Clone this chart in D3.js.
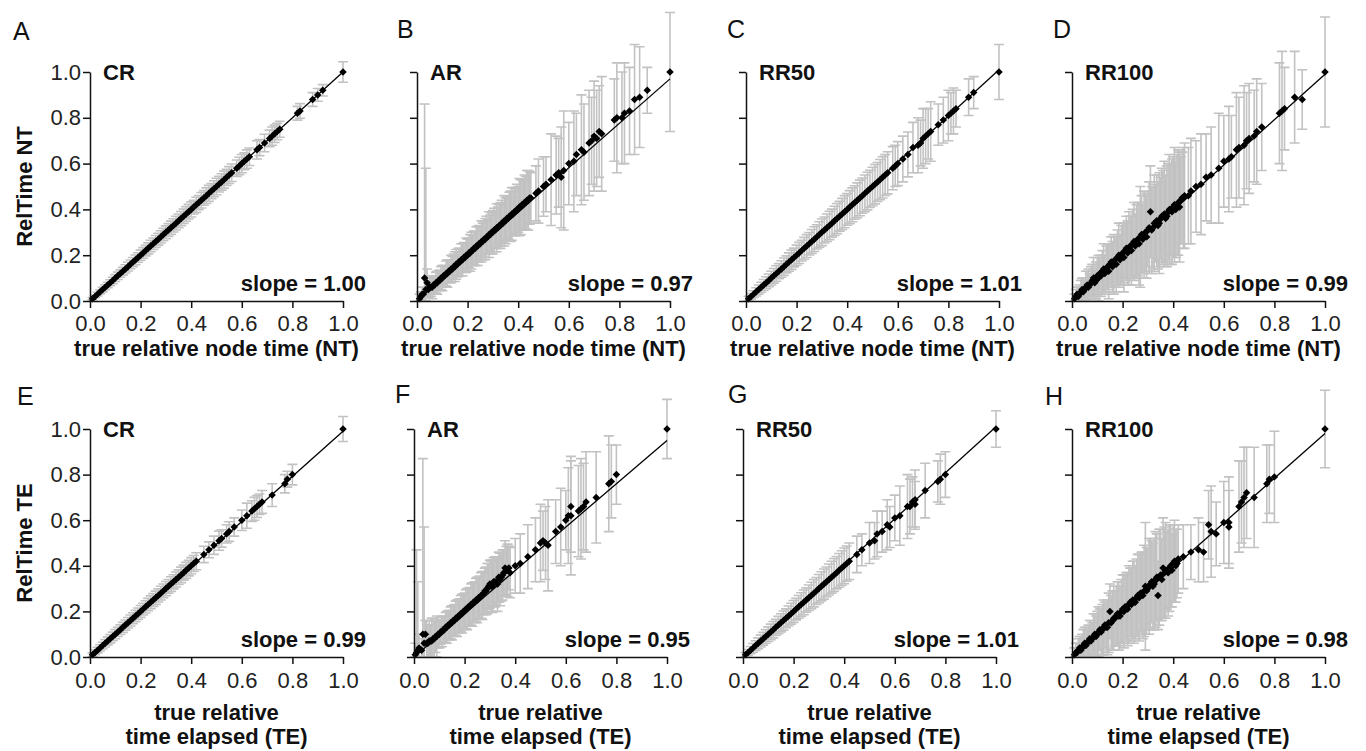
<!DOCTYPE html>
<html>
<head>
<meta charset="utf-8">
<script src="https://cdn.jsdelivr.net/npm/d3@7"></script>
<style>
  body { margin: 0; background: #fff; }
  svg { font-family: "Liberation Sans", Arial, sans-serif; }
</style>
</head>
<body>
<script>
(function() {

  // panel letters, method names and regression slopes
  const panelLetters = ["A", "B", "C", "D", "E", "F", "G", "H"];
  const methodNames = ["CR", "AR", "RR50", "RR100", "CR", "AR", "RR50", "RR100"];
  const slopes = [1.00, 0.97, 1.01, 0.99, 0.99, 0.95, 1.01, 0.98];
  const tickValues = [0, 0.2, 0.4, 0.6, 0.8, 1.0];
  const yTitles = ["RelTime NT", "RelTime TE"];
  const xTitles = [["true relative node time (NT)"], ["true relative", "time elapsed (TE)"]];

  // each point: [true time, RelTime estimate, error half-width]
  const ntCR = [
    [0.01,0.01,0.005],[0.02,0.02,0.006],[0.03,0.03,0.008],[0.04,0.04,0.009],[0.05,0.05,0.010],[0.06,0.06,0.011],[0.07,0.07,0.012],[0.08,0.08,0.013],[0.09,0.09,0.014],[0.10,0.10,0.015],
    [0.11,0.11,0.016],[0.12,0.12,0.016],[0.13,0.13,0.017],[0.14,0.14,0.018],[0.15,0.15,0.019],[0.16,0.16,0.019],[0.17,0.17,0.020],[0.18,0.18,0.021],[0.19,0.19,0.021],[0.20,0.20,0.022],
    [0.21,0.21,0.023],[0.22,0.22,0.023],[0.23,0.23,0.024],[0.24,0.24,0.025],[0.25,0.25,0.025],[0.26,0.26,0.026],[0.27,0.27,0.026],[0.28,0.28,0.027],[0.29,0.29,0.027],[0.30,0.30,0.028],
    [0.31,0.31,0.028],[0.32,0.32,0.029],[0.33,0.33,0.029],[0.34,0.34,0.030],[0.35,0.35,0.030],[0.36,0.36,0.031],[0.37,0.37,0.031],[0.38,0.38,0.032],[0.39,0.39,0.032],[0.40,0.40,0.033],
    [0.41,0.41,0.030],[0.42,0.42,0.033],[0.43,0.43,0.031],[0.44,0.44,0.034],[0.45,0.45,0.032],[0.46,0.46,0.034],[0.47,0.47,0.035],[0.48,0.48,0.033],[0.49,0.49,0.035],[0.50,0.50,0.036],
    [0.51,0.51,0.034],[0.52,0.52,0.036],[0.53,0.53,0.037],[0.54,0.54,0.035],[0.55,0.55,0.037],[0.56,0.56,0.038],[0.58,0.58,0.036],[0.59,0.59,0.038],[0.60,0.60,0.040],[0.61,0.61,0.037],
    [0.62,0.62,0.040],[0.63,0.63,0.038],[0.66,0.66,0.040],[0.67,0.67,0.035],[0.69,0.69,0.038],[0.71,0.71,0.036],[0.72,0.72,0.040],[0.73,0.73,0.038],[0.74,0.74,0.036],[0.75,0.75,0.035],
    [0.82,0.82,0.030],[0.83,0.83,0.032],[0.88,0.88,0.030],[0.90,0.90,0.028],[0.92,0.92,0.025],[1.00,1.00,0.045]
  ];
  const ntAR = [
    [0.01,0.01,0.02],[0.02,0.03,0.03],[0.03,0.10,0.76],[0.035,0.05,0.53],[0.04,0.08,0.06],[0.05,0.06,0.04],[0.06,0.06,0.05],[0.07,0.07,0.04],[0.08,0.08,0.05],[0.09,0.09,0.045],
    [0.10,0.10,0.055],[0.11,0.11,0.045],[0.12,0.12,0.06],[0.13,0.13,0.05],[0.14,0.14,0.055],[0.15,0.15,0.065],[0.16,0.16,0.055],[0.17,0.17,0.06],[0.18,0.18,0.07],[0.19,0.19,0.06],
    [0.20,0.20,0.07],[0.21,0.21,0.08],[0.22,0.22,0.065],[0.23,0.23,0.075],[0.24,0.24,0.085],[0.25,0.25,0.07],[0.26,0.26,0.08],[0.27,0.27,0.09],[0.28,0.28,0.075],[0.29,0.29,0.085],
    [0.30,0.30,0.095],[0.31,0.31,0.08],[0.32,0.32,0.09],[0.33,0.33,0.10],[0.34,0.34,0.085],[0.35,0.35,0.10],[0.36,0.36,0.09],[0.37,0.37,0.11],[0.38,0.38,0.095],[0.39,0.39,0.105],
    [0.40,0.40,0.10],[0.41,0.41,0.12],[0.42,0.42,0.105],[0.43,0.43,0.115],[0.44,0.44,0.13],[0.45,0.45,0.11],[0.47,0.47,0.12],[0.48,0.48,0.14],[0.50,0.50,0.13],[0.51,0.51,0.12],
    [0.53,0.53,0.20],[0.55,0.55,0.17],[0.56,0.56,0.15],[0.57,0.54,0.22],[0.58,0.57,0.26],[0.60,0.60,0.18],[0.62,0.61,0.22],[0.63,0.64,0.18],[0.65,0.66,0.24],[0.66,0.65,0.21],
    [0.68,0.69,0.23],[0.69,0.70,0.19],[0.70,0.72,0.24],[0.71,0.71,0.21],[0.72,0.74,0.20],[0.73,0.73,0.25],[0.78,0.79,0.18],[0.79,0.80,0.24],[0.81,0.80,0.20],[0.82,0.82,0.22],
    [0.84,0.83,0.19],[0.86,0.88,0.24],[0.88,0.89,0.22],[0.91,0.92,0.10],[1.00,1.00,0.26],
    [0.015,0.02,0.02],[0.025,0.03,0.03],[0.045,0.05,0.035],[0.055,0.06,0.04],[0.065,0.07,0.035],[0.075,0.08,0.045],[0.085,0.09,0.04],[0.095,0.10,0.05],[0.105,0.11,0.045],[0.115,0.12,0.055],
    [0.125,0.13,0.05],[0.135,0.14,0.06],[0.145,0.15,0.055],[0.155,0.16,0.065],[0.165,0.17,0.06],[0.175,0.18,0.07],[0.185,0.19,0.065],[0.195,0.20,0.075],[0.205,0.21,0.065],[0.215,0.22,0.08],
    [0.225,0.23,0.075],[0.235,0.24,0.085],[0.245,0.25,0.08],[0.255,0.26,0.09],[0.265,0.27,0.08],[0.275,0.28,0.09],[0.285,0.29,0.10],[0.295,0.30,0.085],[0.305,0.31,0.095],[0.315,0.32,0.105],
    [0.325,0.33,0.09],[0.335,0.34,0.10],[0.345,0.35,0.11],[0.355,0.36,0.095],[0.365,0.37,0.105],[0.375,0.38,0.115],[0.385,0.39,0.10],[0.395,0.40,0.11],[0.405,0.41,0.125],[0.415,0.42,0.11],
    [0.425,0.43,0.12],[0.435,0.44,0.13],[0.445,0.45,0.115]
  ];
  const ntRR50 = [
    [0.01,0.01,0.010],[0.02,0.02,0.012],[0.03,0.03,0.015],[0.04,0.04,0.018],[0.05,0.05,0.020],[0.06,0.06,0.022],[0.07,0.07,0.024],[0.08,0.08,0.026],[0.09,0.09,0.028],[0.10,0.10,0.030],
    [0.11,0.11,0.032],[0.12,0.12,0.034],[0.13,0.13,0.033],[0.14,0.14,0.036],[0.15,0.15,0.038],[0.16,0.16,0.037],[0.17,0.17,0.040],[0.18,0.18,0.042],[0.19,0.19,0.041],[0.20,0.20,0.044],
    [0.21,0.21,0.046],[0.22,0.22,0.045],[0.23,0.23,0.048],[0.24,0.24,0.050],[0.25,0.25,0.049],[0.26,0.26,0.052],[0.27,0.27,0.054],[0.28,0.28,0.053],[0.29,0.29,0.056],[0.30,0.30,0.058],
    [0.31,0.31,0.057],[0.32,0.32,0.060],[0.33,0.33,0.062],[0.34,0.34,0.061],[0.35,0.35,0.064],[0.36,0.36,0.066],[0.37,0.37,0.065],[0.38,0.38,0.068],[0.39,0.39,0.070],[0.40,0.40,0.069],
    [0.41,0.41,0.072],[0.42,0.42,0.074],[0.43,0.43,0.073],[0.44,0.44,0.076],[0.45,0.45,0.078],[0.46,0.46,0.077],[0.47,0.47,0.080],[0.48,0.48,0.082],[0.49,0.49,0.081],[0.50,0.50,0.084],
    [0.51,0.51,0.086],[0.52,0.52,0.085],[0.53,0.53,0.088],[0.54,0.54,0.090],[0.55,0.55,0.089],[0.56,0.56,0.092],[0.58,0.58,0.094],[0.59,0.59,0.090],[0.60,0.60,0.096],[0.62,0.62,0.100],
    [0.64,0.64,0.098],[0.66,0.67,0.110],[0.68,0.68,0.120],[0.69,0.69,0.100],[0.70,0.71,0.130],[0.71,0.72,0.120],[0.72,0.73,0.110],[0.73,0.74,0.130],[0.76,0.77,0.090],[0.78,0.79,0.100],
    [0.80,0.81,0.110],[0.81,0.82,0.090],[0.82,0.83,0.100],[0.83,0.84,0.080],[0.88,0.89,0.080],[0.90,0.91,0.070],[1.00,1.00,0.120]
  ];
  const ntRR100 = [
    [0.01,0.01,0.02],[0.02,0.03,0.03],[0.03,0.03,0.04],[0.04,0.05,0.05],[0.05,0.05,0.04],[0.06,0.07,0.06],[0.07,0.07,0.05],[0.08,0.09,0.07],[0.09,0.08,0.06],[0.10,0.11,0.08],
    [0.11,0.12,0.07],[0.12,0.13,0.09],[0.13,0.12,0.08],[0.14,0.15,0.10],[0.15,0.16,0.09],[0.16,0.15,0.11],[0.17,0.18,0.10],[0.18,0.19,0.12],[0.19,0.18,0.11],[0.20,0.21,0.13],
    [0.21,0.22,0.12],[0.22,0.21,0.14],[0.23,0.24,0.13],[0.24,0.25,0.15],[0.25,0.24,0.14],[0.26,0.27,0.16],[0.27,0.28,0.22],[0.28,0.27,0.15],[0.29,0.30,0.17],[0.30,0.31,0.16],
    [0.31,0.39,0.20],[0.32,0.32,0.18],[0.33,0.34,0.17],[0.34,0.33,0.19],[0.35,0.36,0.18],[0.36,0.37,0.20],[0.37,0.36,0.19],[0.38,0.39,0.21],[0.39,0.40,0.20],[0.40,0.41,0.22],
    [0.41,0.40,0.21],[0.42,0.43,0.23],[0.43,0.44,0.19],[0.44,0.45,0.22],[0.46,0.46,0.21],[0.47,0.48,0.23],[0.49,0.50,0.20],[0.51,0.51,0.22],[0.53,0.54,0.19],[0.55,0.55,0.21],
    [0.58,0.58,0.24],[0.60,0.61,0.20],[0.62,0.62,0.23],[0.63,0.63,0.18],[0.65,0.66,0.25],[0.66,0.67,0.22],[0.68,0.68,0.26],[0.69,0.70,0.21],[0.70,0.71,0.24],[0.72,0.72,0.20],
    [0.73,0.74,0.23],[0.75,0.76,0.19],[0.82,0.82,0.22],[0.83,0.83,0.26],[0.84,0.84,0.18],[0.88,0.89,0.20],[0.91,0.88,0.13],[1.00,1.00,0.24],
    [0.015,0.02,0.03],[0.025,0.02,0.04],[0.035,0.04,0.05],[0.045,0.04,0.06],[0.055,0.06,0.07],[0.065,0.06,0.08],[0.075,0.08,0.07],[0.085,0.10,0.09],[0.095,0.09,0.08],[0.105,0.10,0.10],
    [0.115,0.11,0.09],[0.125,0.14,0.11],[0.135,0.14,0.10],[0.145,0.13,0.12],[0.155,0.17,0.11],[0.165,0.16,0.13],[0.175,0.16,0.12],[0.185,0.20,0.14],[0.195,0.20,0.13],[0.205,0.19,0.15],
    [0.215,0.23,0.14],[0.225,0.23,0.16],[0.235,0.22,0.15],[0.245,0.26,0.17],[0.255,0.26,0.16],[0.265,0.25,0.18],[0.275,0.29,0.17],[0.285,0.29,0.19],[0.295,0.28,0.18],[0.305,0.32,0.20],
    [0.315,0.31,0.19],[0.325,0.34,0.21],[0.335,0.35,0.20],[0.345,0.34,0.22],[0.355,0.37,0.21],[0.365,0.38,0.23],[0.375,0.37,0.22],[0.385,0.40,0.24],[0.395,0.39,0.23],[0.405,0.42,0.25],
    [0.415,0.42,0.22],[0.425,0.41,0.24],[0.435,0.45,0.20],[0.445,0.46,0.23]
  ];
  const teCR = [
    [0.01,0.01,0.008],[0.02,0.02,0.010],[0.03,0.03,0.012],[0.04,0.04,0.014],[0.05,0.05,0.015],[0.06,0.06,0.016],[0.07,0.07,0.017],[0.08,0.08,0.018],[0.09,0.09,0.019],[0.10,0.10,0.020],
    [0.11,0.11,0.020],[0.12,0.12,0.021],[0.13,0.13,0.022],[0.14,0.14,0.022],[0.15,0.15,0.023],[0.16,0.16,0.024],[0.17,0.17,0.024],[0.18,0.18,0.025],[0.19,0.19,0.025],[0.20,0.20,0.026],
    [0.21,0.21,0.026],[0.22,0.22,0.027],[0.23,0.23,0.027],[0.24,0.24,0.028],[0.25,0.25,0.028],[0.26,0.26,0.029],[0.27,0.27,0.029],[0.28,0.28,0.030],[0.29,0.29,0.030],[0.30,0.30,0.031],
    [0.31,0.31,0.030],[0.32,0.32,0.032],[0.33,0.33,0.031],[0.34,0.34,0.033],[0.35,0.35,0.032],[0.36,0.36,0.034],[0.37,0.37,0.033],[0.38,0.38,0.035],[0.39,0.39,0.034],[0.40,0.40,0.036],
    [0.41,0.41,0.035],[0.42,0.42,0.037],[0.45,0.45,0.036],[0.47,0.47,0.035],[0.49,0.49,0.040],[0.51,0.51,0.042],[0.52,0.52,0.038],[0.54,0.54,0.040],[0.55,0.55,0.043],[0.57,0.57,0.040],
    [0.60,0.60,0.045],[0.62,0.62,0.055],[0.64,0.64,0.045],[0.65,0.65,0.050],[0.66,0.66,0.048],[0.67,0.67,0.045],[0.68,0.68,0.050],[0.72,0.71,0.050],[0.77,0.76,0.040],[0.78,0.78,0.035],
    [0.80,0.80,0.045],[1.00,1.00,0.055]
  ];
  const teAR = [
    [0.005,0.01,0.05],[0.01,0.02,0.45],[0.015,0.03,0.30],[0.02,0.04,0.06],[0.03,0.03,0.05],[0.035,0.10,0.77],[0.04,0.06,0.51],[0.045,0.10,0.06],[0.05,0.06,0.10],[0.06,0.07,0.09],
    [0.07,0.07,0.10],[0.08,0.08,0.08],[0.09,0.09,0.09],[0.10,0.10,0.06],[0.11,0.11,0.065],[0.12,0.12,0.06],[0.13,0.13,0.07],[0.14,0.14,0.065],[0.15,0.15,0.075],[0.16,0.16,0.07],
    [0.17,0.17,0.08],[0.18,0.18,0.075],[0.19,0.19,0.085],[0.20,0.20,0.08],[0.21,0.21,0.09],[0.22,0.22,0.085],[0.23,0.23,0.095],[0.24,0.24,0.09],[0.25,0.25,0.10],[0.26,0.26,0.095],
    [0.27,0.27,0.105],[0.28,0.29,0.10],[0.29,0.30,0.11],[0.30,0.32,0.105],[0.31,0.31,0.115],[0.32,0.33,0.11],[0.33,0.32,0.12],[0.34,0.34,0.115],[0.35,0.36,0.11],[0.36,0.39,0.12],
    [0.37,0.38,0.115],[0.38,0.37,0.11],[0.40,0.40,0.12],[0.42,0.41,0.13],[0.45,0.44,0.14],[0.48,0.47,0.14],[0.50,0.50,0.17],[0.51,0.51,0.13],[0.52,0.50,0.16],[0.53,0.49,0.20],
    [0.56,0.55,0.14],[0.58,0.57,0.17],[0.60,0.60,0.13],[0.61,0.62,0.21],[0.62,0.66,0.20],[0.62,0.62,0.26],[0.65,0.64,0.20],[0.66,0.65,0.22],[0.67,0.66,0.19],[0.68,0.68,0.22],
    [0.72,0.70,0.20],[0.77,0.76,0.21],[0.78,0.77,0.16],[0.80,0.80,0.13],[1.00,1.00,0.13],
    [0.055,0.06,0.08],[0.065,0.07,0.07],[0.075,0.08,0.09],[0.085,0.09,0.07],[0.095,0.10,0.06],[0.105,0.11,0.055],[0.115,0.12,0.06],[0.125,0.13,0.065],[0.135,0.14,0.06],[0.145,0.15,0.07],
    [0.155,0.16,0.065],[0.165,0.17,0.075],[0.175,0.18,0.07],[0.185,0.19,0.08],[0.195,0.20,0.075],[0.205,0.21,0.085],[0.215,0.22,0.08],[0.225,0.23,0.09],[0.235,0.24,0.085],[0.245,0.25,0.095],
    [0.255,0.26,0.09],[0.265,0.27,0.10],[0.275,0.28,0.095],[0.285,0.29,0.105],[0.295,0.31,0.10],[0.305,0.31,0.11],[0.315,0.33,0.105],[0.325,0.33,0.10],[0.335,0.35,0.11],[0.345,0.35,0.105],
    [0.355,0.37,0.10],[0.365,0.38,0.105],[0.375,0.39,0.095]
  ];
  const teRR50 = [
    [0.01,0.01,0.010],[0.02,0.02,0.013],[0.03,0.03,0.016],[0.04,0.04,0.019],[0.05,0.05,0.021],[0.06,0.06,0.024],[0.07,0.07,0.026],[0.08,0.08,0.028],[0.09,0.09,0.030],[0.10,0.10,0.032],
    [0.11,0.11,0.034],[0.12,0.12,0.036],[0.13,0.13,0.035],[0.14,0.14,0.038],[0.15,0.15,0.040],[0.16,0.16,0.042],[0.17,0.17,0.041],[0.18,0.18,0.044],[0.19,0.19,0.046],[0.20,0.20,0.048],
    [0.21,0.21,0.047],[0.22,0.22,0.050],[0.23,0.23,0.052],[0.24,0.24,0.054],[0.25,0.25,0.053],[0.26,0.26,0.056],[0.27,0.27,0.058],[0.28,0.28,0.060],[0.29,0.29,0.059],[0.30,0.30,0.062],
    [0.31,0.31,0.064],[0.32,0.32,0.066],[0.33,0.33,0.065],[0.34,0.34,0.068],[0.35,0.35,0.070],[0.36,0.36,0.072],[0.37,0.37,0.071],[0.38,0.38,0.074],[0.39,0.39,0.076],[0.40,0.40,0.078],
    [0.41,0.41,0.077],[0.42,0.42,0.080],[0.45,0.45,0.080],[0.47,0.47,0.070],[0.50,0.50,0.090],[0.52,0.51,0.080],[0.53,0.54,0.100],[0.55,0.55,0.090],[0.57,0.58,0.110],[0.58,0.57,0.090],
    [0.60,0.61,0.100],[0.62,0.62,0.130],[0.65,0.66,0.140],[0.66,0.66,0.120],[0.67,0.68,0.110],[0.68,0.69,0.130],[0.68,0.67,0.100],[0.72,0.73,0.120],[0.77,0.77,0.090],[0.78,0.78,0.110],
    [0.80,0.80,0.100],[1.00,1.00,0.080]
  ];
  const teRR100 = [
    [0.01,0.01,0.03],[0.02,0.02,0.04],[0.03,0.04,0.05],[0.04,0.04,0.06],[0.05,0.06,0.07],[0.06,0.06,0.06],[0.07,0.08,0.08],[0.08,0.08,0.07],[0.09,0.10,0.09],[0.10,0.10,0.10],
    [0.11,0.12,0.09],[0.12,0.12,0.11],[0.13,0.14,0.10],[0.14,0.13,0.12],[0.15,0.20,0.12],[0.16,0.16,0.13],[0.17,0.17,0.12],[0.18,0.19,0.14],[0.19,0.18,0.13],[0.20,0.21,0.15],
    [0.21,0.22,0.14],[0.22,0.21,0.16],[0.23,0.24,0.15],[0.24,0.25,0.17],[0.25,0.24,0.16],[0.26,0.27,0.18],[0.27,0.28,0.17],[0.28,0.27,0.19],[0.29,0.31,0.28],[0.30,0.30,0.18],
    [0.31,0.32,0.20],[0.32,0.31,0.19],[0.33,0.34,0.21],[0.34,0.27,0.15],[0.35,0.36,0.20],[0.36,0.39,0.22],[0.37,0.38,0.21],[0.38,0.37,0.19],[0.39,0.40,0.18],[0.40,0.41,0.17],
    [0.41,0.40,0.16],[0.42,0.43,0.15],[0.44,0.44,0.14],[0.47,0.46,0.12],[0.50,0.47,0.14],[0.52,0.46,0.13],[0.54,0.58,0.15],[0.55,0.55,0.20],[0.57,0.54,0.14],[0.60,0.59,0.18],
    [0.62,0.59,0.20],[0.62,0.57,0.16],[0.66,0.66,0.20],[0.67,0.68,0.18],[0.68,0.70,0.22],[0.69,0.72,0.20],[0.72,0.70,0.22],[0.77,0.76,0.17],[0.78,0.78,0.15],[0.80,0.79,0.20],
    [1.00,1.00,0.17],
    [0.015,0.02,0.04],[0.025,0.03,0.05],[0.035,0.03,0.06],[0.045,0.05,0.07],[0.055,0.05,0.08],[0.065,0.07,0.07],[0.075,0.07,0.09],[0.085,0.09,0.10],[0.095,0.09,0.09],[0.105,0.11,0.11],
    [0.115,0.11,0.10],[0.125,0.13,0.12],[0.135,0.13,0.11],[0.145,0.15,0.13],[0.155,0.15,0.12],[0.165,0.17,0.14],[0.175,0.18,0.13],[0.185,0.18,0.15],[0.195,0.20,0.14],[0.205,0.20,0.16],
    [0.215,0.22,0.15],[0.225,0.23,0.17],[0.235,0.23,0.16],[0.245,0.24,0.18],[0.255,0.26,0.17],[0.265,0.26,0.19],[0.275,0.28,0.18],[0.285,0.29,0.20],[0.295,0.29,0.19],[0.305,0.31,0.21],
    [0.315,0.33,0.18],[0.325,0.32,0.20],[0.335,0.35,0.19],[0.345,0.35,0.21],[0.355,0.34,0.18],[0.365,0.37,0.20],[0.375,0.38,0.17],[0.385,0.39,0.19],[0.395,0.38,0.16],[0.405,0.42,0.18],
    [0.415,0.41,0.15]
  ];
  const panelData = [ntCR, ntAR, ntRR50, ntRR100, teCR, teAR, teRR50, teRR100];

  // layout
  const width = 1366;
  const height = 751;
  const colLeft = [[90, 417, 746, 1072], [90, 414, 743, 1072]];
  const rowY = [[301, 72], [657, 429]];   // [y of 0, y of 1]
  const plotW = 253;
  const letterPos = [[13, 40], [397, 38], [727, 38], [1053, 38], [17, 405], [395, 403], [728, 403], [1045, 405]];

  const svg = d3.select("body").append("svg")
    .attr("width", width)
    .attr("height", height);

  for (let i = 0; i < 8; i++) {
    drawPanel(i);
  }

  // y titles for each row
  yTitles.forEach((t, r) => {
    const mid = (rowY[r][0] + rowY[r][1]) / 2;
    svg.append("text")
      .attr("transform", "translate(32," + mid + ") rotate(-90)")
      .attr("text-anchor", "middle")
      .attr("font-size", 22)
      .attr("font-weight", "bold")
      .attr("fill", "#111")
      .text(t);
  });

  function drawPanel(i) {
    const row = Math.floor(i / 4);
    const col = i % 4;
    const x0 = colLeft[row][col];
    const yb = rowY[row][0];
    const yt = rowY[row][1];
    const pts = panelData[i];

    let x = d3.scaleLinear().domain([0, 1]).range([x0, x0 + plotW]);
    let y = d3.scaleLinear().domain([0, 1]).range([yb, yt]);

    let g = svg.append("g");

    // gray error bars with caps
    const cap = 5;
    g.append("g")
      .selectAll("path")
      .data(pts)
      .join("path")
      .attr("fill", "none")
      .attr("stroke", "#c2c2c2")
      .attr("stroke-width", 1.6)
      .attr("d", function(d) {
        let cx = x(d[0]);
        let hi = y(d[1] + d[2]);
        let lo = y(Math.max(0, d[1] - d[2]));
        return "M" + (cx - cap) + "," + hi + "H" + (cx + cap) +
               "M" + cx + "," + hi + "V" + lo +
               "M" + (cx - cap) + "," + lo + "H" + (cx + cap);
      });

    // regression line through origin
    g.append("line")
      .attr("x1", x(0))
      .attr("y1", y(0))
      .attr("x2", x(1))
      .attr("y2", y(slopes[i]))
      .attr("stroke", "#000")
      .attr("stroke-width", 1.3);

    // black diamonds
    g.append("g")
      .selectAll("path")
      .data(pts)
      .join("path")
      .attr("d", d3.symbol(d3.symbolSquare, 28))
      .attr("transform", d => "translate(" + x(d[0]) + "," + y(d[1]) + ") rotate(45)")
      .attr("fill", "#000");

    // axes
    let xAxis = d3.axisBottom(x)
      .tickValues(tickValues)
      .tickSize(7)
      .tickSizeOuter(0)
      .tickPadding(row === 0 ? 7 : 8)
      .tickFormat(d3.format(".1f"));
    let xg = g.append("g")
      .attr("transform", "translate(0," + yb + ")")
      .call(xAxis);

    let yAxis = d3.axisLeft(y)
      .tickValues(tickValues)
      .tickSize(7)
      .tickSizeOuter(0)
      .tickPadding(2)
      .tickFormat(col === 0 ? d3.format(".1f") : "");
    let yg = g.append("g")
      .attr("transform", "translate(" + x0 + ",0)")
      .call(yAxis);

    [xg, yg].forEach(a => {
      a.attr("font-size", 22).attr("font-family", null);
      a.selectAll("path, line").attr("stroke", "#111").attr("stroke-width", 1.5);
      a.selectAll("text").attr("fill", "#222");
    });

    // x title
    const cx = x0 + plotW / 2;
    xTitles[row].forEach((t, k) => {
      g.append("text")
        .attr("x", cx)
        .attr("y", row === 0 ? 356 : 720 + k * 24)
        .attr("text-anchor", "middle")
        .attr("font-size", 22)
        .attr("font-weight", "bold")
        .attr("fill", "#111")
        .text(t);
    });

    // method name
    g.append("text")
      .attr("x", x0 + 13)
      .attr("y", yt + 8)
      .attr("font-size", 22)
      .attr("font-weight", "bold")
      .attr("fill", "#111")
      .text(methodNames[i]);

    // slope text
    g.append("text")
      .attr("x", x0 + plotW + 23)
      .attr("y", yb - 10)
      .attr("text-anchor", "end")
      .attr("font-size", 22)
      .attr("font-weight", "bold")
      .attr("fill", "#111")
      .text("slope = " + d3.format(".2f")(slopes[i]));

    // panel letter
    svg.append("text")
      .attr("x", letterPos[i][0])
      .attr("y", letterPos[i][1])
      .attr("font-size", 25)
      .attr("fill", "#111")
      .text(panelLetters[i]);
  }

})();
</script>
</body>
</html>
